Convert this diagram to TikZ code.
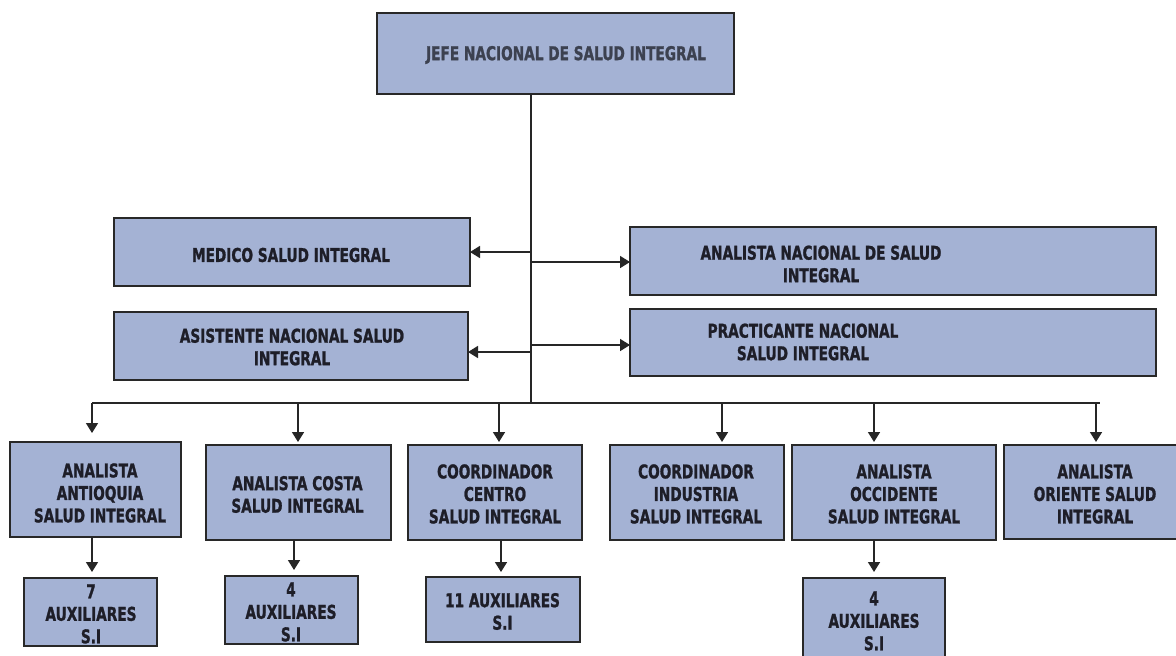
\documentclass[tikz,border=0pt]{standalone}
\usepackage{fontspec}
\newfontfamily\bxfont[FakeStretch=0.72, BoldFeatures={FakeBold=1.2}]{DejaVu Sans}
\usetikzlibrary{arrows.meta}
\definecolor{boxfill}{RGB}{164,178,212}
\definecolor{boxline}{RGB}{40,40,40}
\definecolor{txtcol}{RGB}{30,30,40}
\definecolor{toptxt}{RGB}{60,65,80}
\tikzset{
  box/.style={draw=boxline, line width=1.7pt, fill=boxfill, rectangle, inner sep=0pt, outer sep=0pt},
  txt/.style={font=\bxfont\bfseries\fontsize{19}{22.5}\selectfont, text=txtcol, align=center, inner sep=0pt},
  conn/.style={line width=1.6pt, draw=black!85},
  arr/.style={conn, -{Triangle[length=10pt,width=12pt]}},
}
\newcommand\mybox[5]{\node[box, minimum width=#4-#2, minimum height=#5-#3] (#1) at ({(#2+#4)/2},{(#3+#5)/2}) {};}
\begin{document}
\begin{tikzpicture}[x=1pt,y=-1pt]
\useasboundingbox (0,0) rectangle (1176,656);
\clip (0,0) rectangle (1176,656);
\fill[white] (0,0) rectangle (1176,656);
% boxes
\mybox{jefe}{377}{13}{734}{94}
\mybox{medico}{114}{218}{470}{286}
\mybox{asistente}{114}{312}{468}{380}
\mybox{anacional}{630}{227}{1156}{295}
\mybox{practicante}{630}{309}{1156}{376}
\mybox{antioquia}{10}{442}{181}{537}
\mybox{costa}{206}{445}{391}{540}
\mybox{centro}{408}{445}{582}{540}
\mybox{industria}{610}{445}{784}{540}
\mybox{occidente}{792}{445}{996}{540}
\mybox{oriente}{1004}{445}{1182}{539}
\mybox{auxA}{24}{578}{157}{646}
\mybox{auxB}{225}{576}{358}{644}
\mybox{auxC}{426}{577}{580}{642}
\mybox{auxD}{803}{578}{945}{664}
% texts
\node[txt, text=toptxt] (tjefe) at (566,55) {JEFE NACIONAL DE SALUD INTEGRAL};
\node[txt] (tmedico) at (291,255) {MEDICO SALUD INTEGRAL};
\node[txt] (tasistente) at (292,347) {ASISTENTE NACIONAL SALUD\\INTEGRAL};
\node[txt] (tanacional) at (821,264) {ANALISTA NACIONAL DE SALUD\\INTEGRAL};
\node[txt] (tpracticante) at (803,342) {PRACTICANTE NACIONAL\\SALUD INTEGRAL};
\node[txt] (tantioquia) at (100,493) {ANALISTA\\ANTIOQUIA\\SALUD INTEGRAL};
\node[txt] (tcosta) at (297.5,494.5) {ANALISTA COSTA\\SALUD INTEGRAL};
\node[txt] (tcentro) at (495,494) {COORDINADOR\\CENTRO\\SALUD INTEGRAL};
\node[txt] (tindustria) at (696,494) {COORDINADOR\\INDUSTRIA\\SALUD INTEGRAL};
\node[txt] (toccidente) at (894,494) {ANALISTA\\OCCIDENTE\\SALUD INTEGRAL};
\node[txt] (toriente) at (1095,494) {ANALISTA\\ORIENTE SALUD\\INTEGRAL};
\node[txt] (tauxA) at (91,614) {7\\AUXILIARES\\S.I};
\node[txt] (tauxB) at (291,612) {4\\AUXILIARES\\S.I};
\node[txt] (tauxC) at (502.5,611.5) {11 AUXILIARES\\S.I};
\node[txt] (tauxD) at (874,621) {4\\AUXILIARES\\S.I};
% trunk and bus
\coordinate (trunk) at (531,403);
\coordinate (busL) at (92,403);
\coordinate (busR) at (1100,403);
\draw[conn] (jefe.south -| trunk) -- (trunk);
\draw[conn] (busL) -- (busR);
% side branches
\coordinate (j1) at (531,252);
\coordinate (j2) at (531,262);
\coordinate (j3) at (531,352);
\coordinate (j4) at (531,345);
\draw[arr] (j1) -- (j1 -| medico.east);
\draw[arr] (j2) -- (j2 -| anacional.west);
\draw[arr] (j3) -- (j3 -| asistente.east);
\draw[arr] (j4) -- (j4 -| practicante.west);
% drops to level 2
\coordinate (d1) at (92,403);
\coordinate (d2) at (298,403);
\coordinate (d3) at (499,403);
\coordinate (d4) at (722,403);
\coordinate (d5) at (874,403);
\coordinate (d6) at (1096,403);
\draw[arr, shorten >=9pt] (d1) -- (d1 |- antioquia.north);
\draw[arr, shorten >=3pt] (d2) -- (d2 |- costa.north);
\draw[arr, shorten >=3pt] (d3) -- (d3 |- centro.north);
\draw[arr, shorten >=3pt] (d4) -- (d4 |- industria.north);
\draw[arr, shorten >=3pt] (d5) -- (d5 |- occidente.north);
\draw[arr, shorten >=3pt] (d6) -- (d6 |- oriente.north);
% drops to level 3
\coordinate (e1) at (92,0);
\coordinate (e2) at (294,0);
\coordinate (e3) at (501,0);
\coordinate (e4) at (874,0);
\draw[arr, shorten >=6pt] (e1 |- antioquia.south) -- (e1 |- auxA.north);
\draw[arr, shorten >=6pt] (e2 |- costa.south) -- (e2 |- auxB.north);
\draw[arr, shorten >=5pt] (e3 |- centro.south) -- (e3 |- auxC.north);
\draw[arr, shorten >=6pt] (e4 |- occidente.south) -- (e4 |- auxD.north);
\end{tikzpicture}
\end{document}
